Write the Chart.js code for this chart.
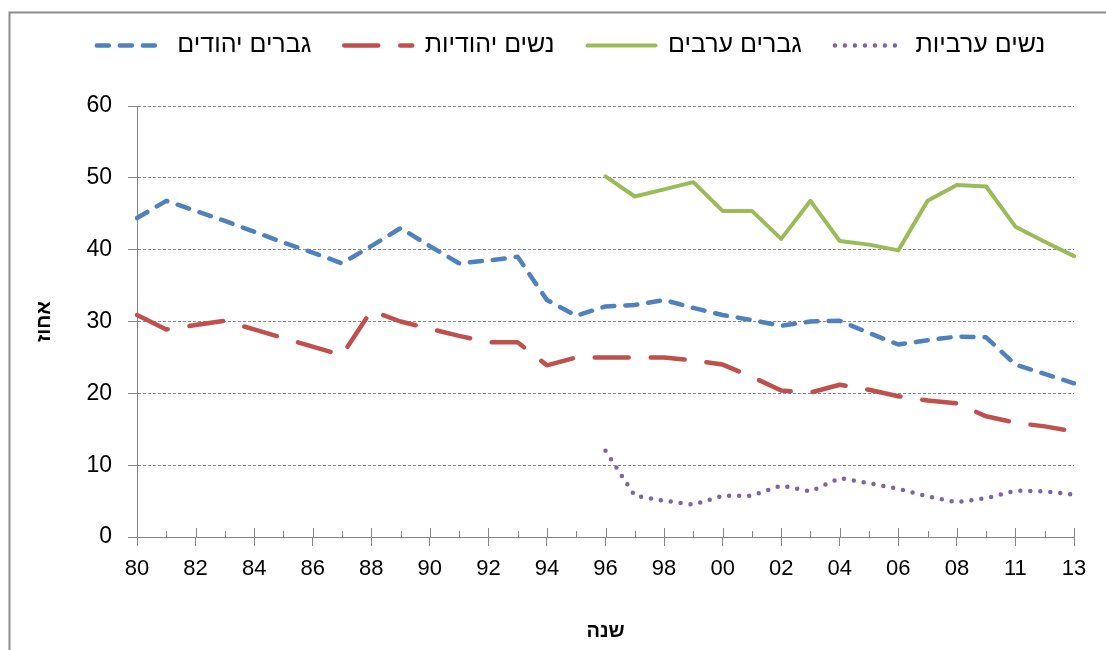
<!DOCTYPE html>
<html>
<head>
<meta charset="utf-8">
<script src="https://cdn.jsdelivr.net/npm/chart.js@4/dist/chart.umd.min.js"></script>
<style>
html,body{margin:0;padding:0;background:#fff;}
#wrap{width:1106px;height:650px;position:relative;overflow:hidden;}
canvas{display:block;}
</style>
</head>
<body>
<div id="wrap"><canvas id="c" width="1106" height="650"></canvas></div>
<script>
// ---- data ----
const years = ['80','81','82','83','84','85','86','87','88','89',
               '90','91','92','93','94','95','96','97','98','99',
               '00','01','02','03','04','05','06','07','08','09',
               '11','12','13'];
const shownTicks = ['80','82','84','86','88','90','92','94','96','98','00','02','04','06','08','11','13'];
const yTicks = [0, 10, 20, 30, 40, 50, 60];

const jewishMen = [44.4, 46.8, 45.4, 44.0, 42.5, 41.0, 39.6, 38.1, 40.5, 43.0,
                   40.5, 38.1, 38.5, 39.0, 33.0, 30.8, 32.1, 32.3, 33.0, 31.9,
                   30.9, 30.2, 29.4, 30.0, 30.1, 28.4, 26.8, 27.4, 27.9, 27.8,
                   24.0, 22.7, 21.4];
const jewishWomen = [30.9, 28.9, 29.5, 30.1, 28.9, 27.7, 26.5, 25.3, 31.5, 30.0,
                     29.0, 28.0, 27.1, 27.1, 23.9, 25.0, 25.0, 25.0, 25.0, 24.6,
                     24.0, 22.3, 20.4, 20.1, 21.2, 20.5, 19.6, 19.0, 18.6, 16.8,
                     15.9, 15.4, 14.7];
const arabMen = [null, null, null, null, null, null, null, null, null, null,
                 null, null, null, null, null, null, 50.2, 47.4, 48.4, 49.4,
                 45.4, 45.4, 41.5, 46.8, 41.2, 40.7, 39.9, 46.8, 49.0, 48.8,
                 43.2, 41.1, 39.1];
const arabWomen = [null, null, null, null, null, null, null, null, null, null,
                   null, null, null, null, null, null, 12.0, 5.75, 5.05, 4.5,
                   5.75, 5.75, 7.15, 6.35, 8.2, 7.5, 6.7, 5.65, 4.85, 5.4,
                   6.45, 6.35, 5.9];

const seriesNames = ['גברים יהודים', 'נשים יהודיות', 'גברים ערבים', 'נשים ערביות'];
const xTitle = 'שנה';
const yTitle = 'אחוז';

// ---- styling ----
const FONT = "'Liberation Sans', Arial, sans-serif";
const AXIS = '#868686';

const frame = {
  id: 'frame',
  beforeDraw(chart) {
    const ctx = chart.ctx;
    ctx.save();
    ctx.fillStyle = '#fff';
    ctx.fillRect(0, 0, chart.width, chart.height);
    ctx.strokeStyle = '#8c8c8c';
    ctx.lineWidth = 2;
    ctx.beginPath();
    ctx.moveTo(9.5, chart.height + 5);
    ctx.lineTo(9.5, 12.5);
    ctx.lineTo(chart.width + 5, 12.5);
    ctx.stroke();
    ctx.restore();
  }
};

const innerTicks = {
  id: 'innerTicks',
  beforeDatasetsDraw(chart) {
    const ctx = chart.ctx;
    const x = chart.scales.x;
    const bottom = chart.chartArea.bottom;
    ctx.save();
    ctx.strokeStyle = AXIS;
    ctx.lineWidth = 1;
    x.ticks.forEach((t, i) => {
      const px = Math.round(x.getPixelForTick(i)) + 0.5;
      const len = (i % 2 === 0) ? 9 : 6;
      ctx.beginPath();
      ctx.moveTo(px, bottom - len);
      ctx.lineTo(px, bottom);
      ctx.stroke();
    });
    ctx.restore();
  }
};

// legend block: fixed height and a small horizontal shift, like the original
const legendTweak = {
  id: 'legendTweak',
  beforeInit(chart) {
    const lg = chart.legend;
    if (!lg) return;
    const fit = lg.fit;
    lg.fit = function () {
      fit.call(this);
      this.height = 106;
    };
    const draw = lg.draw;
    lg.draw = function () {
      const ctx = this.ctx;
      ctx.save();
      ctx.translate(17, 0);
      draw.call(this);
      ctx.restore();
    };
  }
};

new Chart(document.getElementById('c'), {
  type: 'line',
  data: {
    labels: years,
    datasets: [
      {
        label: seriesNames[0], data: jewishMen,
        borderColor: '#4F81BD', backgroundColor: '#4F81BD',
        borderWidth: 4.5, borderDash: [12, 11], borderCapStyle: 'round', borderJoinStyle: 'round'
      },
      {
        label: seriesNames[1], data: jewishWomen,
        borderColor: '#C0504D', backgroundColor: '#C0504D',
        borderWidth: 4.5, borderDash: [34, 22], borderCapStyle: 'round', borderJoinStyle: 'round'
      },
      {
        label: seriesNames[2], data: arabMen,
        borderColor: '#9BBB59', backgroundColor: '#9BBB59',
        borderWidth: 4, borderCapStyle: 'round', borderJoinStyle: 'round'
      },
      {
        label: seriesNames[3], data: arabWomen,
        borderColor: '#8064A2', backgroundColor: '#8064A2',
        borderWidth: 4.5, borderDash: [0, 10], borderCapStyle: 'round', borderJoinStyle: 'round'
      }
    ]
  },
  options: {
    responsive: false,
    animation: false,
    devicePixelRatio: 1,
    spanGaps: false,
    elements: { point: { radius: 0, hoverRadius: 0 }, line: { tension: 0 } },
    layout: { padding: { top: 0, left: 34, right: 32, bottom: 0 } },
    plugins: {
      tooltip: { enabled: false },
      legend: {
        position: 'top',
        labels: {
          usePointStyle: true,
          pointStyle: 'line',
          pointStyleWidth: 68,
          padding: 33,
          color: '#000',
          font: { family: FONT, size: 25 },
          generateLabels(chart) {
            const items = Chart.defaults.plugins.legend.labels.generateLabels(chart);
            items.forEach((it) => {
              const ds = chart.data.datasets[it.datasetIndex];
              it.lineDash = ds.borderDash || [];
              it.lineDashOffset = 0;
              it.lineWidth = ds.borderWidth;
              it.lineCap = ds.borderCapStyle;
              it.strokeStyle = ds.borderColor;
              it.fillStyle = ds.borderColor;
              it.pointStyle = 'line';
            });
            return items;
          }
        }
      }
    },
    scales: {
      x: {
        afterFit(scale) { scale.height = 113; },
        grid: {
          drawOnChartArea: false,
          drawTicks: true,
          tickLength: 9,
          tickColor: (c) => (c.index % 2 === 0 ? AXIS : 'rgba(0,0,0,0)'),
          tickWidth: 1
        },
        border: { display: true, color: AXIS, width: 1 },
        ticks: {
          autoSkip: false, maxRotation: 0, minRotation: 0,
          padding: 10,
          color: '#000',
          font: { family: FONT, size: 22 },
          callback: (v, i) => (shownTicks.includes(years[i]) ? years[i] : '')
        },
        title: {
          display: true, text: xTitle, color: '#000',
          font: { family: FONT, size: 20, weight: 'bold', lineHeight: 1 },
          padding: { top: 0, bottom: 9 }
        }
      },
      y: {
        min: 0, max: 60,
        afterFit(scale) { scale.width = 103; },
        afterBuildTicks(scale) { scale.ticks = yTicks.map(v => ({ value: v })); },
        grid: {
          color: '#8a8a8a', lineWidth: 1,
          tickLength: 9, tickColor: AXIS, tickBorderDash: []
        },
        border: { display: true, color: AXIS, width: 1, dash: [3, 2] },
        ticks: {
          padding: 16,
          color: '#000',
          font: { family: FONT, size: 23 }
        },
        title: {
          display: true, text: yTitle, color: '#000',
          font: { family: FONT, size: 20, weight: 'bold', lineHeight: 1 },
          padding: { top: 0, bottom: 0 }
        }
      }
    }
  },
  plugins: [frame, innerTicks, legendTweak]
});
</script>
</body>
</html>
